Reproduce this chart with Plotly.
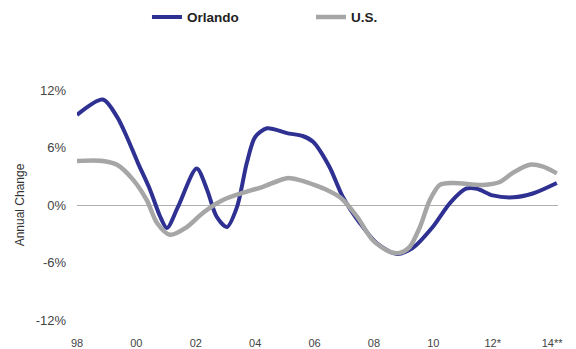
import plotly.graph_objects as go

# Annual employment change (%), Orlando vs. U.S.
orlando_year = [1998.0, 1998.87, 1999.35, 1999.68, 2000.05, 2000.46, 2000.8, 2001.03,
                2001.4, 2002.03, 2002.38, 2002.7, 2003.05, 2003.39, 2003.72, 2004.0,
                2004.4, 2005.07, 2005.6, 2005.95, 2006.5, 2006.96, 2007.53, 2008.1,
                2008.77, 2009.3, 2009.98, 2010.56, 2011.1, 2011.47, 2012.0, 2012.7,
                2013.35, 2014.16]
orlando_change = [9.4, 11.0, 9.2, 7.1, 4.4, 1.6, -1.2, -2.4,
                  -0.2, 3.8, 1.6, -1.2, -2.3, -0.2, 4.4, 7.1,
                  8.0, 7.5, 7.2, 6.6, 4.0, 0.8, -1.9, -4.0,
                  -5.1, -4.5, -2.3, 0.2, 1.7, 1.7, 1.0, 0.8,
                  1.2, 2.3]

us_year = [1998.0, 1998.87, 1999.35, 1999.9, 2000.35, 2000.7, 2001.13, 2001.7,
           2002.25, 2002.9, 2003.72, 2004.26, 2005.07, 2005.5, 2006.08, 2006.4,
           2006.86, 2007.43, 2007.97, 2008.54, 2008.87, 2009.2, 2009.55, 2009.88,
           2010.22, 2010.66, 2011.67, 2012.24, 2012.7, 2013.25, 2013.7, 2014.16]
us_change = [4.6, 4.6, 4.2, 2.6, 0.5, -1.9, -3.1, -2.3,
             -0.8, 0.5, 1.4, 1.9, 2.8, 2.6, 2.0, 1.6,
             0.8, -1.2, -3.7, -4.9, -5.0, -4.4, -2.3, 0.5,
             2.1, 2.3, 2.1, 2.4, 3.4, 4.2, 4.0, 3.3]

tick_years = [1998, 2000, 2002, 2004, 2006, 2008, 2010, 2012, 2014]
tick_labels = ["98", "00", "02", "04", "06", "08", "10", "12*", "14**"]
y_ticks = [-12, -6, 0, 6, 12]
y_labels = ["-12%", "-6%", "0%", "6%", "12%"]

fig = go.Figure()
fig.add_trace(go.Scatter(
    x=orlando_year, y=orlando_change, name="Orlando", mode="lines",
    line=dict(color="#2e3192", width=4, shape="spline", smoothing=0.8),
))
fig.add_trace(go.Scatter(
    x=us_year, y=us_change, name="U.S.", mode="lines",
    line=dict(color="#a6a6a6", width=4.5, shape="spline", smoothing=0.8),
))

fig.update_layout(
    width=576, height=349,
    margin=dict(l=77, r=18, t=90, b=29),
    paper_bgcolor="white", plot_bgcolor="white",
    font=dict(family="Liberation Sans, Arial, sans-serif", color="#333333"),
    showlegend=True,
    legend=dict(
        orientation="h", x=0.1455, xanchor="left",
        yref="container", y=0.951, yanchor="middle",
        font=dict(size=13.5, color="#222222", weight="bold",
                  family="Liberation Sans, Arial, sans-serif"),
        entrywidth=119, entrywidthmode="pixels",
        bgcolor="rgba(0,0,0,0)", tracegroupgap=0,
    ),
    xaxis=dict(
        range=[1998, 2014.2], tickvals=tick_years, ticktext=tick_labels,
        showgrid=False, zeroline=False, showline=False, ticks="",
        tickfont=dict(size=11, color="#444444"), ticklabelstandoff=15,
        fixedrange=True, automargin=False,
    ),
    yaxis=dict(
        range=[-12, 12], tickvals=y_ticks, ticktext=y_labels,
        showgrid=False, zeroline=True, zerolinecolor="#b0b0b0", zerolinewidth=1,
        showline=False, ticks="", tickfont=dict(size=13, color="#444444"),
        ticklabelstandoff=10,
        title=dict(text="Annual Change", font=dict(size=12, color="#333333"), standoff=8),
        fixedrange=True, automargin=False,
    ),
)

fig.write_html("out.html")
